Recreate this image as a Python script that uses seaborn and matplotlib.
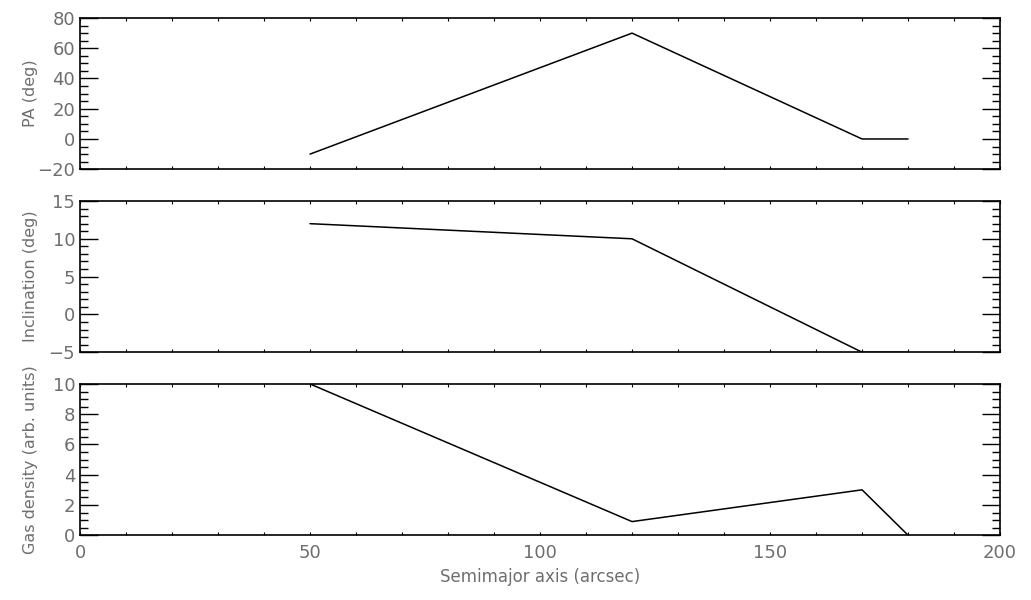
"""
Warped disc model: PA, inclination and gas density against semimajor axis.
Three stacked panels, IDL-style axes.
"""

import matplotlib.pyplot as plt
import pandas as pd
import seaborn as sns
from matplotlib.ticker import MultipleLocator

# ------------------------------------------------------------------
# Data
# ------------------------------------------------------------------
radius = [50, 120, 170, 180]
pa_deg = [-10, 70, 0, 0]
incl_deg = [12, 10, -5, -5]
gas_density = [10, 0.9, 3, 0]

panels = [
    ("PA (deg)", pa_deg, (-20, 80), 20, 5),
    ("Inclination (deg)", incl_deg, (-5, 15), 5, 1),
    ("Gas density (arb. units)", gas_density, (0, 10), 2, 0.5),
]

sns.set_style("white")
plt.rcParams["font.family"] = ["DejaVu Sans"]
text_col = "#6e6e6e"

fig, axes = plt.subplots(3, 1, figsize=(10.31, 6.0), dpi=100, sharex=True)
fig.subplots_adjust(left=0.0776, right=0.97, top=0.97, bottom=0.108, hspace=0.21)

for ax, (label, values, ylim, major, minor) in zip(axes, panels):
    df = pd.DataFrame({"r": radius, "v": values})
    sns.lineplot(data=df, x="r", y="v", ax=ax, color="black", lw=1.1)

    ax.set_xlim(0, 200)
    ax.set_ylim(*ylim)
    ax.set_ylabel(label, color=text_col, fontsize=11.5)
    ax.set_xlabel("")

    ax.yaxis.set_major_locator(MultipleLocator(major))
    ax.yaxis.set_minor_locator(MultipleLocator(minor))
    ax.xaxis.set_major_locator(MultipleLocator(50))
    ax.xaxis.set_minor_locator(MultipleLocator(10))

    ax.tick_params(axis="both", which="both", direction="in",
                   left=True, bottom=True, top=True, right=True,
                   colors="black", labelcolor=text_col, labelsize=13)
    ax.tick_params(axis="y", which="major", length=13, width=1)
    ax.tick_params(axis="y", which="minor", length=6, width=1)
    ax.tick_params(axis="x", which="major", length=2, width=0.8, pad=6)
    ax.tick_params(axis="x", which="minor", length=2, width=0.8)

    for s in ax.spines.values():
        s.set_color("black")
        s.set_linewidth(1.2)
    ax.yaxis.set_label_coords(-0.046, 0.5)

axes[-1].set_xlabel("Semimajor axis (arcsec)", color=text_col, fontsize=12,
                    labelpad=5)

plt.savefig("out.png", dpi=100)
plt.close()
